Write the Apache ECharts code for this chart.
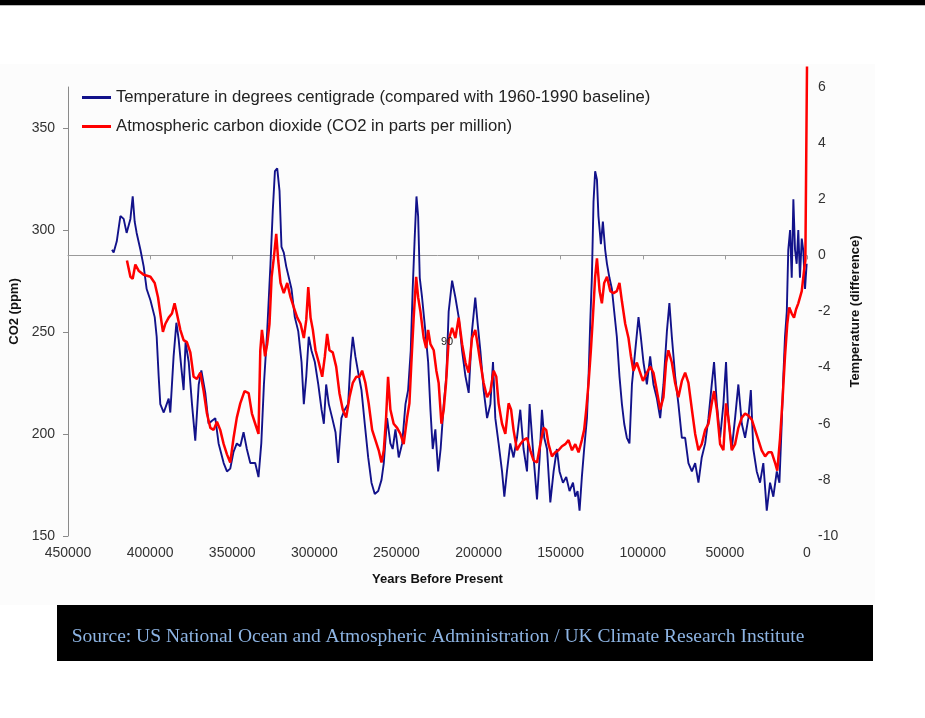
<!DOCTYPE html>
<html>
<head>
<meta charset="utf-8">
<script src="https://cdn.jsdelivr.net/npm/echarts@6/dist/echarts.min.js"></script>
<style>
html,body{margin:0;padding:0;background:#fff;}
#chart{width:925px;height:718px;}
</style>
</head>
<body>
<div id="chart"></div>
<script>
// Temperature (difference from 1960-1990 baseline, deg C) vs years before present
const tempYears = [423200,422200,420300,418100,416100,414300,412000,410600,409400,408200,
405900,403900,402100,399800,397200,396000,394800,393800,391700,389900,
388700,387700,385700,384000,382600,381000,379600,378400,376500,374500,
372500,370400,368800,366400,364400,362500,360300,358300,355200,353200,
351200,349200,347200,345100,343100,341100,339000,336000,334000,332300,
330700,328700,326700,325300,324000,322600,321200,320000,318600,317100,
315500,313900,311900,309800,307800,306400,304900,303400,301700,299700,
297600,295600,294200,292800,291200,289100,287100,285500,283500,281500,
279400,278000,276600,275000,272900,271300,269300,267200,265200,263200,
261100,259100,257700,255700,253700,252300,250600,248600,246500,244500,
242900,241300,240100,238900,237800,236800,235800,234400,232400,230700,
229300,227900,226300,224600,223100,221200,219600,218200,216100,214100,
212100,210000,208000,206000,204000,202000,200600,198900,196900,194800,
192800,191200,189800,187800,185700,184300,182700,180700,178700,176600,
174600,172600,170500,168900,166900,164400,162800,161400,160000,158300,
156300,154300,152300,150700,148600,146600,144600,142500,141100,139700,
138500,137100,135700,134000,133000,132000,131000,130000,129000,127900,
127000,125500,124300,122900,121800,120300,118800,117400,115800,114200,
112700,111300,109700,108100,106600,104600,102600,101200,99600,97500,
95500,93500,91400,89400,87400,85300,83800,82300,80300,78300,
76200,74200,72200,70100,68100,66100,64100,62000,60000,58000,
56600,54900,52900,50900,49300,47900,45800,43800,41800,39700,
37700,35700,34200,32700,30600,28600,26600,24500,22500,20500,
18400,16800,15400,14400,13400,12300,11400,10300,9300,8300,
7300,6300,5300,4300,3200,2300,1200,200];
const tempValues = [0.2,0.1,0.5,1.4,1.3,0.8,1.3,2.1,1.2,0.8,
0.2,-0.4,-1.2,-1.6,-2.2,-2.9,-4.3,-5.3,-5.6,-5.3,
-5.1,-5.6,-3.6,-2.4,-3.0,-4.0,-4.8,-3.1,-3.8,-5.3,
-6.6,-4.6,-4.1,-4.9,-6.0,-5.9,-5.8,-6.7,-7.4,-7.7,
-7.6,-7.0,-6.7,-6.8,-6.3,-6.9,-7.4,-7.4,-7.9,-6.7,
-4.6,-2.7,-0.3,1.6,3.0,3.1,2.3,0.3,0.1,-0.4,
-0.8,-1.2,-2.2,-2.7,-3.8,-5.3,-4.3,-2.9,-3.4,-3.8,
-4.6,-5.5,-6.0,-4.6,-5.3,-5.8,-6.3,-7.4,-5.8,-5.5,
-5.3,-3.8,-2.9,-3.6,-4.3,-4.8,-6.0,-7.2,-8.1,-8.5,
-8.4,-8.0,-7.4,-5.8,-6.7,-6.9,-6.2,-7.2,-6.7,-5.3,
-4.8,-3.4,-1.2,0.6,2.1,1.4,-0.8,-1.5,-2.7,-3.8,
-5.5,-6.9,-6.2,-7.7,-6.9,-5.3,-4.3,-2.0,-0.9,-1.5,
-2.2,-3.4,-4.3,-4.9,-2.7,-1.5,-2.4,-3.4,-4.8,-5.8,
-5.3,-3.8,-5.8,-6.7,-7.7,-8.6,-7.7,-6.7,-7.2,-6.5,
-5.5,-6.9,-7.7,-5.3,-6.9,-8.7,-7.2,-5.5,-6.5,-6.9,
-8.8,-7.7,-6.9,-7.7,-8.1,-7.9,-8.4,-8.1,-8.6,-8.4,
-9.1,-7.9,-6.9,-5.8,-4.3,-2.4,-0.8,1.9,3.0,2.7,
1.4,0.4,1.2,0.2,-0.3,-0.8,-1.2,-2.0,-2.9,-4.3,
-5.3,-6.0,-6.5,-6.7,-4.6,-3.4,-2.2,-2.9,-3.8,-4.6,
-3.6,-4.6,-5.1,-5.8,-4.6,-2.7,-1.7,-2.9,-4.3,-5.3,
-6.5,-6.5,-7.4,-7.7,-7.4,-8.1,-7.2,-6.7,-5.8,-4.6,
-3.8,-5.3,-6.5,-5.3,-3.8,-5.8,-6.9,-5.8,-4.6,-6.0,
-6.5,-5.8,-4.8,-6.9,-7.7,-8.1,-7.4,-9.1,-8.1,-8.6,
-7.7,-8.1,-6.0,-4.3,-2.9,-2.0,0.2,0.9,-0.8,2.0,
0.2,-0.3,0.9,-0.8,0.6,0.2,-1.2,-0.3];

// Atmospheric CO2 (ppm) vs years before present
const co2Years = [414100,412000,410600,409000,407000,403900,399800,397200,395200,393800,
392200,390700,388700,386700,385100,383700,381600,379600,377600,375500,
373500,371500,369400,367400,365400,363300,361300,359300,357300,355200,
353200,351200,349200,347200,345100,342500,340000,338000,336000,334000,
332900,331900,330000,328700,327300,326000,324700,323200,322000,320600,
318600,316500,314500,312500,310400,308400,306400,304900,303700,302300,
300900,299300,297300,295200,293600,292200,290800,288800,286700,284700,
282700,280600,278600,276600,274500,272500,270900,268900,266900,264800,
262800,260800,259100,257700,256300,255100,253700,251700,249600,247600,
245600,243500,242100,240900,239500,238000,236800,235400,233400,231900,
230700,229300,227300,225700,224300,222600,221200,219800,218200,216100,
214100,212100,210000,208000,206000,204000,202000,200600,198900,196900,
194800,192800,190800,189200,187800,185700,183700,181700,180200,178700,
176600,174600,172600,170500,168500,166500,164400,162400,160400,158800,
157400,155300,153300,151300,149200,147200,145200,143100,141100,139100,
137100,135700,134400,133000,131600,130400,129000,127900,126300,124900,
123500,121800,119800,117800,115800,114200,112700,110700,108700,107200,
105700,103600,102000,99900,97500,95500,93500,91400,89400,87400,
85800,84400,82300,80300,78300,76200,74200,72200,70100,68100,
66100,64100,62000,60000,58000,56600,54900,52900,50900,49300,
47900,45800,43800,41800,39700,37700,35700,33600,31600,29600,
27600,25500,23500,21500,19500,18100,16400,14800,13400,12000,
10800,9300,7900,6700,5300,3200,1800,1000,0];
const co2Values = [285,277,276,283,280,278,277,274,267,259,
250,254,257,259,264,259,251,246,245,240,
228,227,230,221,210,203,202,206,202,195,
190,186,198,208,215,221,220,210,205,200,
241,251,238,244,254,277,286,298,285,274,
269,274,267,262,257,254,247,256,272,257,
251,241,235,228,238,249,241,240,233,220,
212,208,218,225,228,228,231,225,215,202,
197,192,186,192,208,228,212,205,203,200,
195,208,215,235,257,277,267,260,247,242,
251,244,241,231,225,205,212,225,246,252,
247,257,244,235,230,247,251,244,235,225,
218,221,231,228,215,205,200,215,212,202,
192,195,197,198,192,187,186,195,203,202,
195,189,191,192,194,195,197,192,195,191,
197,202,212,225,241,257,277,286,270,264,
274,277,270,269,270,274,265,254,247,238,
231,235,231,226,230,233,230,221,212,218,
235,241,235,225,218,226,230,225,212,200,
192,195,202,205,215,221,212,195,192,215,
208,192,195,203,208,210,209,207,202,197,
192,189,191,191,186,182,198,218,238,254,
262,259,257,261,264,270,280,285,380];

const co2Ticks = [150,200,250,300,350];
const tempName = 'Temperature in degrees centigrade (compared with 1960-1990 baseline)';
const co2Name = 'Atmospheric carbon dioxide (CO2 in parts per million)';
const sourceText = 'Source: US National Ocean and Atmospheric Administration / UK Climate Research Institute';
const strayLabel = '90';

const tempData = tempYears.map((y, i) => [y, tempValues[i]]);
const co2Data = co2Years.map((y, i) => [y, co2Values[i]]);

const FONT = '"Liberation Sans", Arial, sans-serif';
const chart = echarts.init(document.getElementById('chart'), null, {renderer: 'canvas'});
chart.setOption({
  animation: false,
  backgroundColor: '#ffffff',
  textStyle: {fontFamily: FONT},
  grid: {left: 68, right: 118, top: 87, bottom: 182, containLabel: false, outerBoundsMode: 'none'},
  legend: {
    orient: 'vertical', left: 82, top: 89, padding: 0,
    icon: 'rect', itemWidth: 29, itemHeight: 3, itemGap: 12,
    textStyle: {fontSize: 16.7, color: '#222', fontFamily: FONT},
    data: [tempName, co2Name]
  },
  xAxis: [{
    type: 'value', min: 0, max: 450000, interval: 50000, inverse: true, position: 'bottom',
    axisLine: {show: false, onZero: false}, axisTick: {show: false}, splitLine: {show: false},
    axisLabel: {fontSize: 14, color: '#333', margin: 10, formatter: v => String(v)},
    name: 'Years Before Present', nameLocation: 'middle', nameGap: 37,
    nameTextStyle: {fontWeight: 'bold', fontSize: 13, color: '#111'}
  }, {
    type: 'value', min: 0, max: 450000, interval: 50000, inverse: true, position: 'top',
    axisLine: {show: true, onZero: true, onZeroAxisIndex: 1, lineStyle: {color: '#9a9a9a', width: 1}},
    axisTick: {show: true, inside: true, length: 4, lineStyle: {color: '#9a9a9a'}},
    axisLabel: {show: false}, splitLine: {show: false}
  }],
  yAxis: [{
    type: 'value', min: 150, max: 370, interval: 50, position: 'left',
    axisLine: {show: true, onZero: false, lineStyle: {color: '#8a8a8a', width: 1}},
    axisTick: {show: true, length: 5, customValues: co2Ticks, lineStyle: {color: '#8a8a8a'}},
    axisLabel: {fontSize: 14, color: '#333', margin: 13, customValues: co2Ticks},
    splitLine: {show: false},
    name: 'CO2 (ppm)', nameLocation: 'middle', nameGap: 46, nameRotate: 90,
    nameTextStyle: {fontWeight: 'bold', fontSize: 13, color: '#111'}
  }, {
    type: 'value', min: -10, max: 6, interval: 2, position: 'right',
    axisLine: {show: false, onZero: false}, axisTick: {show: false},
    axisLabel: {fontSize: 14, color: '#333', margin: 11},
    splitLine: {show: false},
    name: 'Temperature (difference)', nameLocation: 'middle', nameGap: 40, nameRotate: 90,
    nameTextStyle: {fontWeight: 'bold', fontSize: 13, color: '#111'}
  }],
  series: [{
    name: tempName, type: 'line', xAxisIndex: 0, yAxisIndex: 1,
    data: tempData, symbol: 'none', showSymbol: false,
    lineStyle: {color: '#12128a', width: 1.9}, itemStyle: {color: '#12128a'}, z: 2
  }, {
    name: co2Name, type: 'line', xAxisIndex: 0, yAxisIndex: 0,
    data: co2Data, symbol: 'none', showSymbol: false, clip: false,
    lineStyle: {color: '#ff0000', width: 2.5}, itemStyle: {color: '#ff0000'}, z: 3
  }],
  graphic: [
    {type: 'rect', z: -10, silent: true, shape: {x: 0, y: 64, width: 875, height: 541}, style: {fill: '#fcfcfc'}},
    {type: 'rect', z: 10, silent: true, shape: {x: 0, y: 0, width: 925, height: 5}, style: {fill: '#000'}},
    {type: 'rect', z: 10, silent: true, shape: {x: 0, y: 5, width: 925, height: 1}, style: {fill: '#bbb'}},
    {type: 'rect', z: 10, silent: true, shape: {x: 57, y: 605, width: 816, height: 56}, style: {fill: '#000'}},
    {type: 'text', z: 11, silent: true, x: 438, y: 637,
      style: {text: sourceText, fill: '#8db4e3', font: '19.5px "Liberation Serif", "Times New Roman", serif', textAlign: 'center', textVerticalAlign: 'middle'}},
    {type: 'text', z: 11, silent: true, x: 447, y: 342,
      style: {text: strayLabel, fill: '#222', font: '11px ' + FONT, textAlign: 'center', textVerticalAlign: 'middle'}}
  ]
});
</script>
</body>
</html>
